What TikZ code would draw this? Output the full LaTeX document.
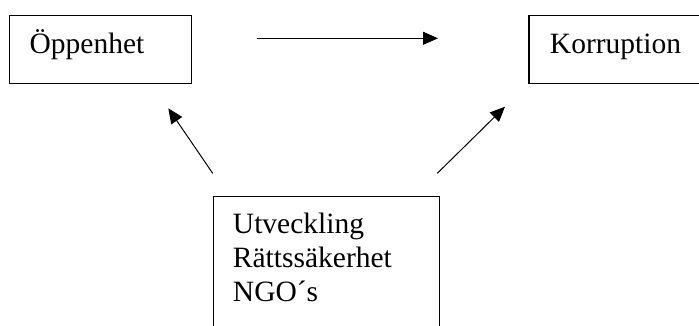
\documentclass[tikz,border=0pt]{standalone}
\usepackage{fontspec}
\setmainfont{Liberation Serif}
\usetikzlibrary{arrows.meta}
\newcommand{\bodyfont}{\fontsize{29.5pt}{34pt}\selectfont}
\tikzset{
  box/.style={draw, line width=1.3pt, inner ysep=0pt, anchor=north west, align=left, font=\bodyfont},
  conn/.style={line width=1pt, -{Triangle[length=15pt,width=13pt]}}
}
\begin{document}
\begin{tikzpicture}[x=1pt,y=-1pt]
\useasboundingbox (0,0) rectangle (699,325);
\clip (0,0) rectangle (699,325);
\fill[white] (0,0) rectangle (699,325);
\node[box, inner xsep=20pt, text width=141.7pt] (opp) at (9,14.7)
  {\rule[-29.7pt]{0pt}{68.3pt}Öppenhet};
\node[box, inner xsep=21pt, text width=139pt] (kor) at (528.3,14.7)
  {\rule[-29.4pt]{0pt}{68pt}Korruption};
\node[box, inner xsep=19.6pt, text width=186.8pt] (fak) at (212.7,195.7)
  {\rule{0pt}{37.3pt}Utveckling\\Rättssäkerhet\\NGO´s\rule[-60pt]{0pt}{0pt}};
\coordinate (h1) at (256.7,38.3);
\coordinate (h2) at (438,38.3);
\coordinate (l1) at (212.7,173.3);
\coordinate (l2) at (168.3,108.3);
\coordinate (r1) at (437.3,173.3);
\coordinate (r2) at (505,106.7);
\draw[conn] (h1) -- (h2);
\draw[conn] (l1) -- (l2);
\draw[conn] (r1) -- (r2);
\end{tikzpicture}
\end{document}
